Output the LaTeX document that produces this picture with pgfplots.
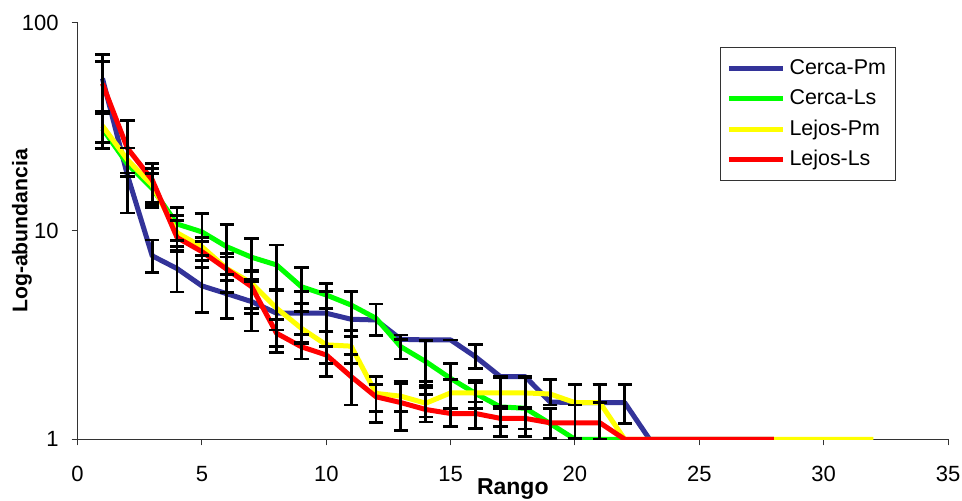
\documentclass[border=0pt]{standalone}
\usepackage{fontspec}
\setmainfont{Liberation Sans}
\usepackage{pgfplots}
\usepackage{pgfplotstable}
\pgfplotsset{compat=1.18}
\definecolor{cblue}{RGB}{51,51,153}
\definecolor{cgreen}{RGB}{0,255,0}
\definecolor{cyellow}{RGB}{255,255,0}
\definecolor{cred}{RGB}{255,0,0}

\pgfplotstableread{
x y ep em
1 54 16.5 16.5
2 18.6 6.4 6.4
3 7.6 1.45 1.3
4 6.6 1.5 1.5
5 5.45 1.25 1.4
6 5.0 1.2 1.19
7 4.58 1.3 1.27
8 4.03 1.22 1.25
9 4.03 1.08 1.14
10 4.03 1.08 0.75
11 3.77 1.34 0.66
12 3.74 0.72 0.6
13 3.02 0.15 0
14 3.0 0 1.1
15 3.0 0 0
16 2.49 0.35 0.3
17 2.0 0 0
18 2.0 0 0
19 1.51 0.42 0.05
20 1.5 0.34 0.04
21 1.5 0.34 0
22 1.5 0.34 0.31
23 1 0 0
28 1 0 0
}\tblue

\pgfplotstableread{
x y ep em
1 31 5.5 6
2 21 4 2.8
3 16 3.9 3
4 10.8 2.2 1.8
5 9.9 2.2 2.3
6 8.4 2.3 2.2
7 7.48 1.72 1.78
8 6.87 1.7 1.67
9 5.4 1.3 1.3
10 4.93 0.68 0.68
11 4.41 0.7 1.09
12 3.81 0.65 0.67
13 2.78 0.39 0.35
14 2.36 0.63 0.55
15 1.96 0.36 0.55
16 1.66 0.25 0.25
17 1.43 0.54 0.28
18 1.41 0.56 0.29
19 1.19 0.22 0.18
20 1 0 0
22 1 0 0
}\tgreen

\pgfplotstableread{
x y ep em
1 32 5.5 5.5
2 22 3 3
3 16.6 2.2 2.9
4 9.8 2.1 1.4
5 8.4 0.9 1.2
6 6.6 1.2 0.8
7 5.61 0.84 1.35
8 4.26 0.9 0.91
9 3.41 1.09 0.5
10 2.84 0.44 0.52
11 2.8 0.52 0.48
12 1.66 0.34 0.3
13 1.61 0.28 0.25
14 1.49 0.29 0.28
15 1.67 0.26 0.26
16 1.67 0.2 0.16
17 1.67 0.33 0.27
18 1.67 0.33 0.24
19 1.65 0.28 0.19
20 1.5 0.34 0.49
21 1.5 0.34 0.5
22 1 0 0
32 1 0 0
}\tyellow

\pgfplotstableread{
x y ep em
1 51 14 14
2 25 8.8 6.8
3 17.6 3.4 4.3
4 9.3 1.9 1.3
5 7.96 0.94 1.26
6 6.55 0.95 1.5
7 5.4 1.0 1.37
8 3.23 0.54 0.61
9 2.78 0.41 0.35
10 2.54 0.26 0.53
11 2.0 0.56 0.54
12 1.6 0.24 0.4
13 1.5 0.35 0.4
14 1.39 0.25 0.11
15 1.33 0.08 0.18
16 1.33 0.18 0.2
17 1.26 0.18 0.23
18 1.26 0.14 0.23
19 1.2 0.21 0.19
20 1.2 0.26 0.19
21 1.2 0.3 0.2
22 1 0 0
28 1 0 0
}\tred

\pgfplotsset{
  ebar/.style={forget plot, draw=none, mark=none,
    error bars/y dir=both, error bars/y explicit,
    error bars/error bar style={draw=black, line width=1.4pt},
    error bars/error mark options={draw=black, rotate=90, mark size=3.6pt, line width=1.4pt}},
  sline/.style={line width=2.5pt, line join=round, mark=none}
}

\begin{document}
\begin{tikzpicture}
\useasboundingbox (-38.8pt,-30.85pt) rectangle (442.2pt,219.65pt);
\begin{axis}[
  at={(0,0)}, anchor=south west,
  scale only axis, width=435.2pt, height=208.3pt,
  xmin=0, xmax=35, ymode=log, ymin=1, ymax=100,
  axis lines*=left,
  axis line style={line width=0.5pt, black!80},
  xtick={0,5,...,35}, xticklabels={0,5,10,15,20,25,30,35},
  ytick={1,10,100}, yticklabels={1,10,100},
  yminorticks=false,
  tick align=outside, major tick length=3pt,
  tick style={black!80, line width=0.5pt},
  ticklabel style={font=\fontsize{11}{13}\selectfont},
  xticklabel style={yshift=-6.8pt},
  yticklabel style={xshift=-3pt},
  xlabel={Rango}, ylabel={Log-abundancia},
  xlabel style={font=\fontsize{11.5}{13}\selectfont\bfseries,
     at={(axis description cs:0.5,0)}, anchor=base, yshift=-27.85pt},
  ylabel style={font=\fontsize{10.6}{12}\selectfont\bfseries,
     at={(axis description cs:-0.0639,0.5)}, anchor=center},
  legend style={at={(0.738,0.941)}, anchor=north west, draw=black!80, line width=0.6pt,
     font=\fontsize{10.7}{12}\selectfont, row sep=2pt, inner xsep=3pt, inner ysep=4pt},
  legend cell align=left,
  legend image code/.code={\draw[#1] (0pt,0pt) -- (27pt,0pt);},
]
\addplot[sline, cblue] table[x=x,y=y] {\tblue};
\addlegendentry{Cerca-Pm}
\addplot[sline, cgreen] table[x=x,y=y] {\tgreen};
\addlegendentry{Cerca-Ls}
\addplot[sline, cyellow] table[x=x,y=y] {\tyellow};
\addlegendentry{Lejos-Pm}
\addplot[sline, cred] table[x=x,y=y] {\tred};
\addlegendentry{Lejos-Ls}

\addplot[restrict x to domain=1:22, ebar] table[x=x,y=y,y error plus=ep,y error minus=em] {\tblue};
\addplot[restrict x to domain=1:19, ebar] table[x=x,y=y,y error plus=ep,y error minus=em] {\tgreen};
\addplot[restrict x to domain=1:21, ebar] table[x=x,y=y,y error plus=ep,y error minus=em] {\tyellow};
\addplot[restrict x to domain=1:21, ebar] table[x=x,y=y,y error plus=ep,y error minus=em] {\tred};
\end{axis}
\end{tikzpicture}
\end{document}
